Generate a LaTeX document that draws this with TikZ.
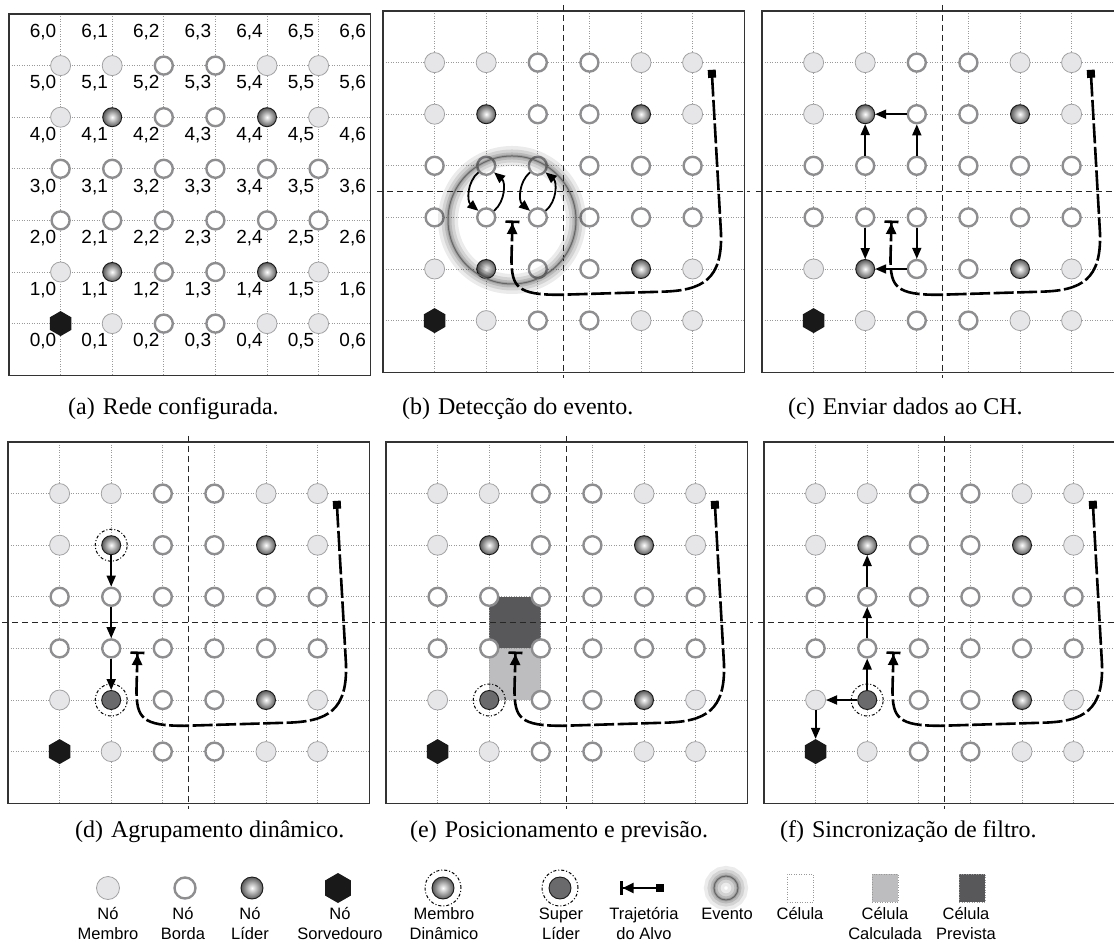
\documentclass[tikz,border=0pt]{standalone}
\usepackage{fontspec}
\setmainfont{Liberation Serif}
\setsansfont{Liberation Sans}
\usetikzlibrary{arrows.meta,shapes.geometric}

\definecolor{membroclaro}{HTML}{E6E6E8}
\definecolor{membrolinha}{HTML}{A2A2A4}
\definecolor{bordalinha}{HTML}{8E8E90}
\definecolor{superfundo}{HTML}{6A6A6C}
\definecolor{calculada}{HTML}{BDBDBF}
\definecolor{prevista}{HTML}{58585A}

\tikzset{
  nobase/.style={circle, inner sep=0pt, minimum size=20pt},
  membro/.style={nobase, fill=membroclaro, draw=membrolinha, line width=0.8pt},
  borda/.style={nobase, fill=white, draw=bordalinha, line width=2.4pt, minimum size=18pt},
  lider/.style={nobase, draw=black!90, line width=0.9pt, inner color=white, outer color=black!65, minimum size=19pt},
  superlider/.style={nobase, fill=superfundo, draw=black!90, line width=0.9pt, minimum size=19pt},
  sorvedouro/.style={regular polygon, regular polygon sides=6, shape border rotate=30, fill=black!90, inner sep=0pt, minimum size=25pt},
  anel/.style={draw=black, line width=1pt, dash dot},
  grade/.style={gray!80, line width=0.7pt, dash pattern=on 0.7pt off 1.8pt},
  moldura/.style={draw=black!80, line width=1.2pt},
  divisao/.style={black!85, line width=1pt, dash pattern=on 6pt off 4pt},
  dado/.style={line width=1.8pt, -{Triangle[length=11pt,width=9pt]}},
  trajetoria/.style={line width=2.6pt, {Square[length=8pt,width=8pt]}-{Triangle[length=11pt,width=10pt]Bar[width=14pt]}},
  tracejado/.style={dash pattern=on 20pt off 3.5pt},
  evento/.style={circle, inner sep=0pt, draw=black!60, line width=1pt,
    preaction={draw=black, draw opacity=0.08, line width=20pt},
    preaction={draw=black, draw opacity=0.10, line width=13pt},
    preaction={draw=black, draw opacity=0.12, line width=7pt},
    preaction={draw=black, draw opacity=0.14, line width=3pt}},
  celula/.style={draw=gray!80, line width=0.7pt, dash pattern=on 0.7pt off 1.8pt, inner sep=0pt, minimum width=26pt, minimum height=28pt},
  rotulo/.style={font=\sffamily\fontsize{19}{22}\selectfont, inner sep=0pt},
  subtitulo/.style={font=\fontsize{24}{28}\selectfont, inner sep=0pt, anchor=base west},
  legenda/.style={font=\sffamily\fontsize{16.5}{20}\selectfont, align=center, inner sep=0pt, anchor=base}
}

% grade de 6x6 nos: #1 prefixo, #2 linha 1, #3 linha 4
\newcommand{\rede}[3]{%
  \foreach \i in {0,...,5} {
    \draw[grade] (\i,-1) -- (\i,6);
    \draw[grade] (-1,\i) -- (6,\i);
  }
  \draw[moldura] (-1,-1) rectangle (6,6);
  \foreach \r/\linha in {0/{membro,membro,borda,borda,membro,membro},
                         1/{#2},
                         2/{borda,borda,borda,borda,borda,borda},
                         3/{borda,borda,borda,borda,borda,borda},
                         4/{#3},
                         5/{sorvedouro,membro,borda,borda,membro,membro}}
    \foreach \t [count=\c from 0] in \linha
      \node[\t] (#1-\r-\c) at (\c,\r) {};
}
\newcommand{\divisao}{%
  \draw[divisao] (2.5,-1.12) -- (2.5,6.12);
  \draw[divisao] (-1.12,2.5) -- (6.12,2.5);
}
\newcommand{\alvo}{%
  \draw[trajetoria, tracejado] (5.37,0.14) -- (5.55,3.3)
    .. controls (5.58,4.2) and (5.2,4.42) .. (4.4,4.44) -- (2.42,4.5)
    .. controls (1.6,4.5) and (1.49,4.35) .. (1.49,3.8) -- (1.51,3.06);
}

\begin{document}
\begin{tikzpicture}[x=1pt, y=-1pt]
\useasboundingbox (0,0) rectangle (1114,952);

% (a) rede configurada
\begin{scope}[shift={(60.6,65.6)}, x=51.6pt, y=-51.6pt]
  \rede{a}{membro,lider,borda,borda,lider,membro}{membro,lider,borda,borda,lider,membro}
  \foreach \k in {0,...,6}
    \foreach \c in {0,...,6}
      \node[rotulo, anchor=base east] (a-\k-\c-txt) at (\c-0.08, 5.45-\k) {\k,\c};
\end{scope}

% (b) deteccao do evento
\begin{scope}[shift={(434.6,62.6)}, x=51.6pt, y=-51.6pt]
  \rede{b}{membro,lider,borda,borda,lider,membro}{membro,lider,borda,borda,lider,membro}
  \divisao
  \node[evento, minimum size=128pt] (b-evento) at (1.5,3.05) {};
  \draw[dado] (b-2-1) to[bend right=50] (b-3-1);
  \draw[dado] (b-3-1) to[bend right=50] (b-2-1);
  \draw[dado] (b-2-2) to[bend right=50] (b-3-2);
  \draw[dado] (b-3-2) to[bend right=50] (b-2-2);
  \alvo
\end{scope}

% (c) enviar dados ao CH
\begin{scope}[shift={(813.6,62.6)}, x=51.6pt, y=-51.6pt]
  \rede{c}{membro,lider,borda,borda,lider,membro}{membro,lider,borda,borda,lider,membro}
  \divisao
  \draw[dado] (c-2-1) -- (c-1-1);
  \draw[dado] (c-2-2) -- (c-1-2);
  \draw[dado] (c-1-2) -- (c-1-1);
  \draw[dado] (c-3-1) -- (c-4-1);
  \draw[dado] (c-3-2) -- (c-4-2);
  \draw[dado] (c-4-2) -- (c-4-1);
  \alvo
\end{scope}

% (d) agrupamento dinamico
\begin{scope}[shift={(59.6,493.6)}, x=51.6pt, y=-51.6pt]
  \rede{d}{membro,lider,borda,borda,lider,membro}{membro,superlider,borda,borda,lider,membro}
  \divisao
  \draw[anel] (d-1-1) circle[radius=16pt];
  \draw[anel] (d-4-1) circle[radius=16pt];
  \draw[dado] (d-1-1) -- (d-2-1);
  \draw[dado] (d-2-1) -- (d-3-1);
  \draw[dado] (d-3-1) -- (d-4-1);
  \alvo
\end{scope}

% (e) posicionamento e previsao
\begin{scope}[shift={(437.6,493.6)}, x=51.6pt, y=-51.6pt]
  \fill[prevista] (1,2) rectangle (2,3);
  \fill[calculada] (1,3) rectangle (2,4);
  \rede{e}{membro,lider,borda,borda,lider,membro}{membro,superlider,borda,borda,lider,membro}
  \divisao
  \draw[anel] (e-4-1) circle[radius=16pt];
  \alvo
\end{scope}

% (f) sincronizacao de filtro
\begin{scope}[shift={(815.6,493.6)}, x=51.6pt, y=-51.6pt]
  \rede{f}{membro,lider,borda,borda,lider,membro}{membro,superlider,borda,borda,lider,membro}
  \divisao
  \draw[anel] (f-4-1) circle[radius=16pt];
  \draw[dado] (f-4-1) -- (f-3-1);
  \draw[dado] (f-3-1) -- (f-2-1);
  \draw[dado] (f-2-1) -- (f-1-1);
  \draw[dado] (f-4-1) -- (f-4-0);
  \draw[dado] (f-4-0) -- (f-5-0);
  \alvo
\end{scope}

% subtitulos
\node[subtitulo] (sub-a) at (68,414) {(a)\hspace{0.33em}Rede configurada.};
\node[subtitulo] (sub-b) at (402,414) {(b)\hspace{0.33em}Detecção do evento.};
\node[subtitulo] (sub-c) at (788,414) {(c)\hspace{0.33em}Enviar dados ao CH.};
\node[subtitulo] (sub-d) at (75,837) {(d)\hspace{0.33em}Agrupamento dinâmico.};
\node[subtitulo] (sub-e) at (410,837) {(e)\hspace{0.33em}Posicionamento e previsão.};
\node[subtitulo] (sub-f) at (780,837) {(f)\hspace{0.33em}Sincronização de filtro.};

% legenda
\node[membro, minimum size=23pt] (leg-membro) at (108,888) {};
\node[borda, minimum size=21pt] (leg-borda) at (185,888) {};
\node[lider, minimum size=22pt] (leg-lider) at (252,888) {};
\node[sorvedouro, minimum size=30pt] (leg-sorvedouro) at (338,888) {};
\node[lider, minimum size=22pt] (leg-dinamico) at (443,888) {};
\draw[anel] (leg-dinamico) circle[radius=18pt];
\node[superlider, minimum size=22pt] (leg-super) at (560,888) {};
\draw[anel] (leg-super) circle[radius=18pt];
\coordinate (leg-alvo-ini) at (664,888);
\coordinate (leg-alvo-fim) at (620,888);
\draw[trajetoria] (leg-alvo-ini) -- (leg-alvo-fim);
\node[evento, minimum size=24pt] (leg-evento) at (726,888) {};
\node[celula] (leg-celula) at (800,888) {};
\node[celula, fill=calculada] (leg-calculada) at (885,888) {};
\node[celula, fill=prevista] (leg-prevista) at (972,888) {};

\node[legenda] (leg-membro-txt) at (108,939) {Nó\\Membro};
\node[legenda] (leg-borda-txt) at (183,939) {Nó\\Borda};
\node[legenda] (leg-lider-txt) at (250,939) {Nó\\Líder};
\node[legenda] (leg-sorvedouro-txt) at (340,939) {Nó\\Sorvedouro};
\node[legenda] (leg-dinamico-txt) at (444,939) {Membro\\Dinâmico};
\node[legenda] (leg-super-txt) at (561,939) {Super\\Líder};
\node[legenda] (leg-alvo-txt) at (644,939) {Trajetória\\do Alvo};
\node[legenda] (leg-evento-txt) at (727,919) {Evento};
\node[legenda] (leg-celula-txt) at (800,919) {Célula};
\node[legenda] (leg-calculada-txt) at (885,939) {Célula\\Calculada};
\node[legenda] (leg-prevista-txt) at (966,939) {Célula\\Prevista};
\end{tikzpicture}
\end{document}
